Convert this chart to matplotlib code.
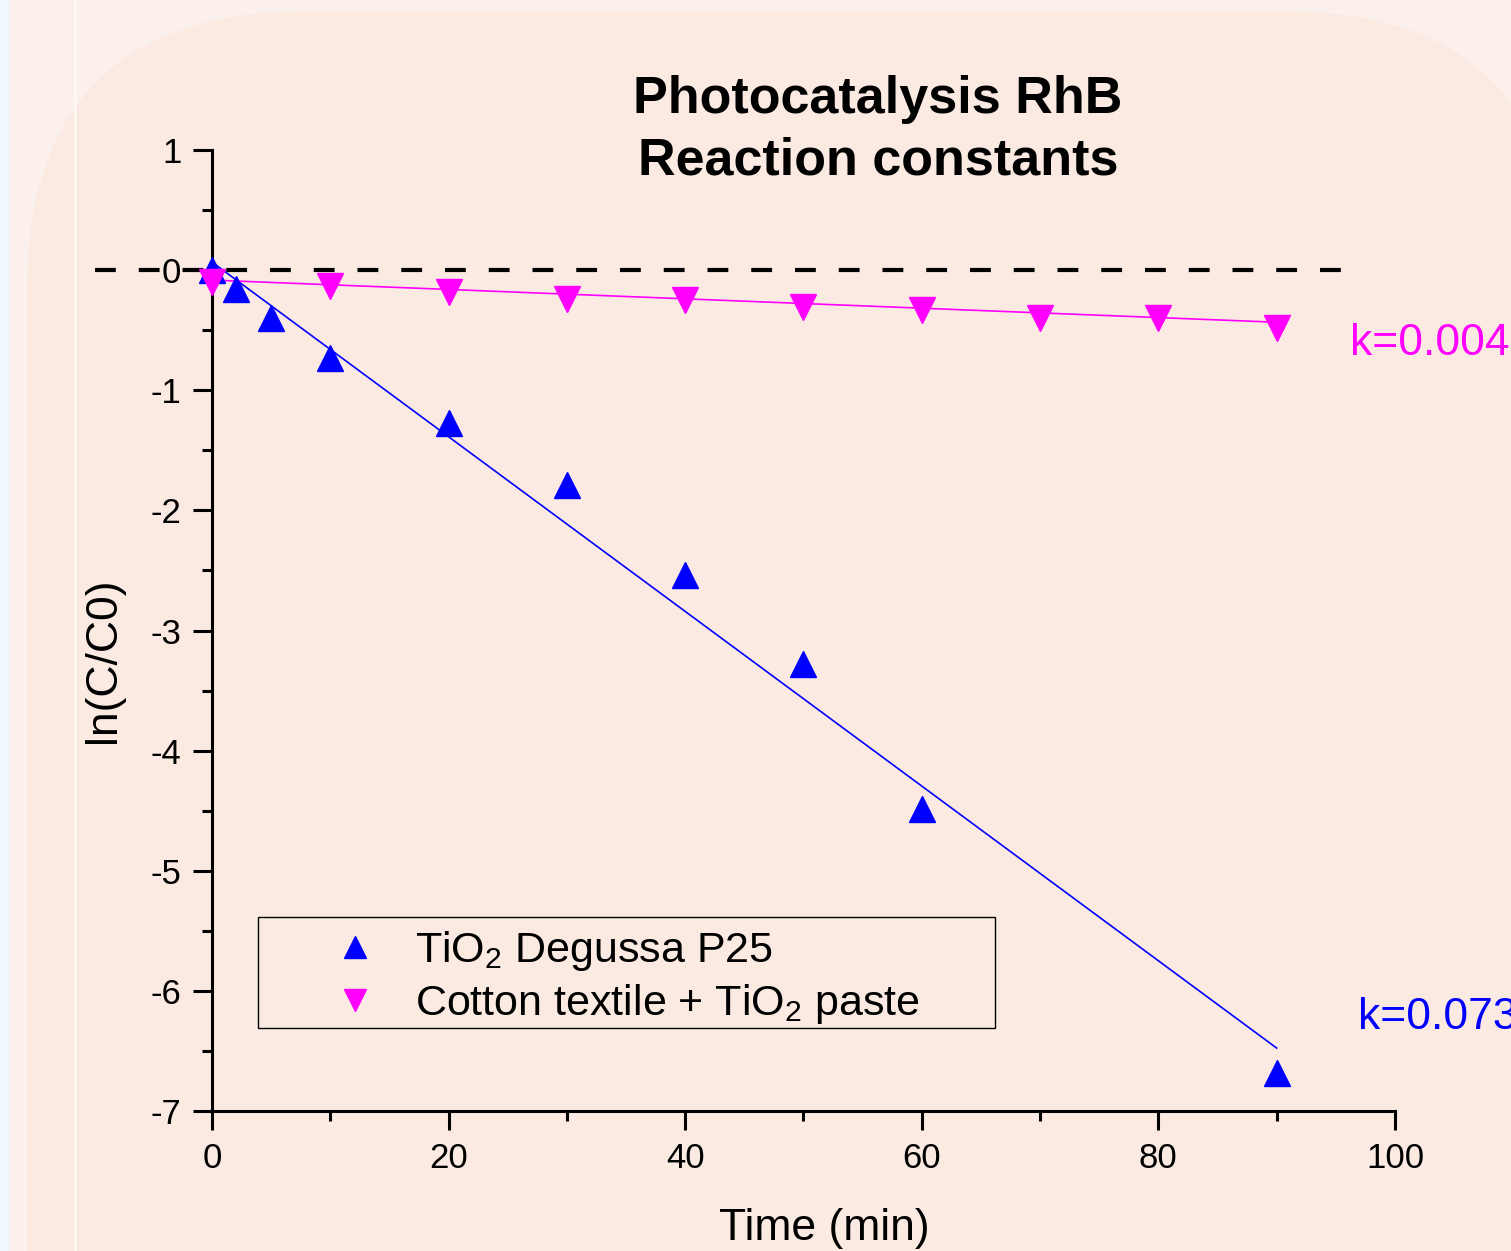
import numpy as np
import matplotlib
matplotlib.use("Agg")
import matplotlib.pyplot as plt
from matplotlib.patches import FancyBboxPatch, Rectangle
from matplotlib.lines import Line2D

plt.rcParams['font.family'] = ['Liberation Sans', 'DejaVu Sans']
plt.rcParams['mathtext.fontset'] = 'custom'
plt.rcParams['mathtext.rm'] = 'Liberation Sans'
plt.rcParams['mathtext.it'] = 'Liberation Sans:italic'
plt.rcParams['axes.unicode_minus'] = False

# data
t_p25 = [0, 2, 5, 10, 20, 30, 40, 50, 60, 90]
ln_p25 = [0.0, -0.16, -0.40, -0.73, -1.27, -1.79, -2.54, -3.28, -4.49, -6.68]
t_cot = [0, 10, 20, 30, 40, 50, 60, 70, 80, 90]
ln_cot = [-0.10, -0.13, -0.18, -0.24, -0.25, -0.31, -0.33, -0.40, -0.40, -0.48]

# linear fits as drawn (intercept, slope)
fit_p25 = (0.067, -0.0727)
fit_cot = (-0.083, -0.0039)
fit_t = [0, 90]

k_labels = ["k=0.073", "k=0.004"]
title = "Photocatalysis RhB\nReaction constants"

bg_in = "#fbeae2"
bg_out = "#fbf0eb"

fig = plt.figure(figsize=(15.11, 12.51), dpi=100)
fig.patch.set_facecolor(bg_out)

# page background: bluish strip, white rule, rounded panel
fig.patches.append(Rectangle((0, 0), 0.09, 12.51, transform=fig.dpi_scale_trans,
                             facecolor="#f0f8fd", edgecolor="none", zorder=-3))
fig.patches.append(FancyBboxPatch((0.27, -4), 15.35, 16.4,
                                  boxstyle="round,pad=0,rounding_size=2.8",
                                  transform=fig.dpi_scale_trans,
                                  facecolor=bg_in, edgecolor="none", zorder=-2))
fig.lines.append(Line2D([0.75, 0.75], [0, 12.51], transform=fig.dpi_scale_trans,
                        color="white", lw=1, zorder=-1))

ax = fig.add_axes([0.1403, 0.1119, 0.7829, 0.7682])
ax.set_facecolor("none")
ax.set_xlim(0, 100)
ax.set_ylim(-7, 1)
for s in ["top", "right"]:
    ax.spines[s].set_visible(False)
for s in ["left", "bottom"]:
    ax.spines[s].set_linewidth(2.2)

ax.set_xticks(np.arange(0, 101, 20))
ax.set_xticks(np.arange(10, 100, 20), minor=True)
ax.set_yticks(np.arange(-7, 2, 1))
ax.set_yticks(np.arange(-6.5, 1, 1), minor=True)
ax.tick_params(which="major", length=14, width=2.2, labelsize=25, pad=8)
ax.tick_params(which="minor", length=7, width=2.2)

# zero reference
ax.plot([-9.9, 97], [0, 0], color="black", lw=3, dashes=(5, 5.5), clip_on=False, zorder=1)

x = np.array(fit_t)
ax.plot(x, fit_p25[0] + fit_p25[1] * x, color="blue", lw=1.2, zorder=2)
ax.plot(x, fit_cot[0] + fit_cot[1] * x, color="magenta", lw=1.2, zorder=2)

ax.plot(t_p25, ln_p25, ls="none", marker="^", ms=19, color="blue", mec="blue",
        label=r"TiO$_2$ Degussa P25", clip_on=False, zorder=3)
ax.plot(t_cot, ln_cot, ls="none", marker="v", ms=19, color="magenta", mec="magenta",
        label=r"Cotton textile + TiO$_2$ paste", clip_on=False, zorder=3)

ax.text(96.9, -6.22, k_labels[0], color="blue", fontsize=32, va="center", clip_on=False)
ax.text(96.2, -0.61, k_labels[1], color="magenta", fontsize=32, va="center", clip_on=False)

leg = ax.legend(loc="center left", bbox_to_anchor=(0.0845, 0.139),
                borderaxespad=0, borderpad=0, fontsize=31, frameon=False,
                handlelength=2.0, handletextpad=0.4, labelspacing=0.2, markerscale=0.85)
ax.add_patch(Rectangle((0.039, 0.086), 0.623, 0.1155, transform=ax.transAxes,
                       facecolor="none", edgecolor="black", lw=1.0, zorder=4))

ax.set_xlabel("Time (min)", fontsize=32)
ax.set_ylabel("ln(C/C0)", fontsize=32)
ax.xaxis.set_label_coords(0.518, -0.101)
ax.yaxis.set_label_coords(-0.074, 0.469)

fig.text(878 / 1511, 1 - 130 / 1251, title, ha="center", va="center",
         fontsize=37.5, fontweight="bold", linespacing=1.33)

fig.savefig("out.png", dpi=100, facecolor=fig.get_facecolor())
